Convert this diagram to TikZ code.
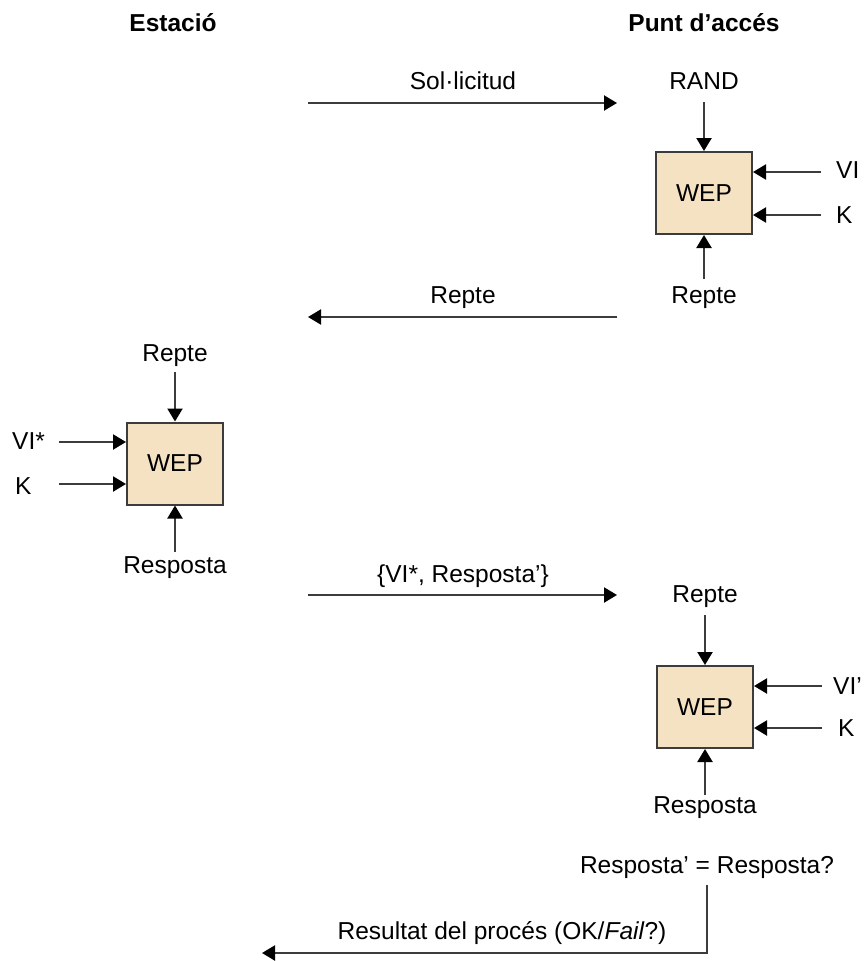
\documentclass[tikz,border=0pt]{standalone}
\usepackage{fontspec}
\setmainfont{Liberation Sans}
\usetikzlibrary{arrows.meta,calc}
\definecolor{wepfill}{HTML}{F5E2C3}
\definecolor{ink}{HTML}{3C3C3C}
\begin{document}
\begin{tikzpicture}[x=1pt,y=-1pt,
  every node/.style={font=\fontsize{24.5}{28}\selectfont, text=black},
  lbl/.style={inner sep=0pt, anchor=base},
  head/.style={lbl, font=\fontsize{24.5}{28}\selectfont\bfseries},
  wep/.style={draw=ink, fill=wepfill, line width=2pt, minimum width=96pt,
              minimum height=82pt, inner sep=0pt},
  arr/.style={draw=ink, line width=2.2pt,
              -{Triangle[length=13pt,width=15pt,fill=black,color=black]}}
]
\useasboundingbox (0,0) rectangle (863,961);

% column headings
\node[head] (sta) at (173,31) {Estació};
\node[head] (ap)  at (704,31) {Punt d’accés};

% --- request
\node[lbl] (solt) at (463,89) {Sol·licitud};
\coordinate (solA) at (308,103);
\coordinate (solB) at (617,103);
\draw[arr] (solA) -- (solB);

% --- access point: challenge generation
\node[wep] (wepA) at (704,193) {WEP};
\node[lbl] (rand) at (704,89) {RAND};
\draw[arr] ($(rand.base)+(0,13)$) -- (wepA.north);
\node[lbl] (repA) at (704,303) {Repte};
\draw[arr] ($(repA.base)+(0,-24)$) -- (wepA.south);
\node[lbl, anchor=base west] (viA) at (836,178) {VI};
\node[lbl, anchor=base west] (kA)  at (836,223) {K};
\coordinate (viAin) at (821,172);
\coordinate (kAin)  at (821,215);
\draw[arr] (viAin) -- (viAin -| wepA.east);
\draw[arr] (kAin)  -- (kAin -| wepA.east);

% --- challenge sent back
\node[lbl] (rept) at (463,303) {Repte};
\coordinate (repSa) at (617,317);
\coordinate (repSb) at (308,317);
\draw[arr] (repSa) -- (repSb);

% --- station: response computation
\node[wep] (wepB) at (175,463.5) {WEP};
\node[lbl] (repB) at (175,361) {Repte};
\draw[arr] ($(repB.base)+(0,11)$) -- (wepB.north);
\node[lbl] (resB) at (175,573) {Resposta};
\draw[arr] ($(resB.base)+(0,-21)$) -- (wepB.south);
\node[lbl, anchor=base west] (viB) at (12,449) {VI*};
\node[lbl, anchor=base west] (kB)  at (15,494) {K};
\coordinate (viBin) at (59,442);
\coordinate (kBin)  at (59,484);
\draw[arr] (viBin) -- (viBin -| wepB.west);
\draw[arr] (kBin)  -- (kBin -| wepB.west);

% --- response sent
\node[lbl] (msg3) at (463,582) {\{VI*, Resposta’\}};
\coordinate (rsA) at (308,595);
\coordinate (rsB) at (617,595);
\draw[arr] (rsA) -- (rsB);

% --- access point: verification
\node[wep] (wepC) at (705,707) {WEP};
\node[lbl] (repC) at (705,602) {Repte};
\draw[arr] ($(repC.base)+(0,13)$) -- (wepC.north);
\node[lbl] (resC) at (705,813) {Resposta};
\draw[arr] ($(resC.base)+(0,-18)$) -- (wepC.south);
\node[lbl, anchor=base west] (viC) at (833,694) {VI’};
\node[lbl, anchor=base west] (kC)  at (838,736) {K};
\coordinate (viCin) at (822,686);
\coordinate (kCin)  at (822,728);
\draw[arr] (viCin) -- (viCin -| wepC.east);
\draw[arr] (kCin)  -- (kCin -| wepC.east);

% --- comparison and result
\node[lbl] (cmp) at (707,873) {Resposta’ = Resposta?};
\node[lbl] (res) at (502,939) {Resultat del procés (OK/\textit{Fail}?)};
\coordinate (resEnd) at (262,953);
\draw[arr] ($(cmp.base)+(0,12)$) |- (resEnd);
\end{tikzpicture}
\end{document}
